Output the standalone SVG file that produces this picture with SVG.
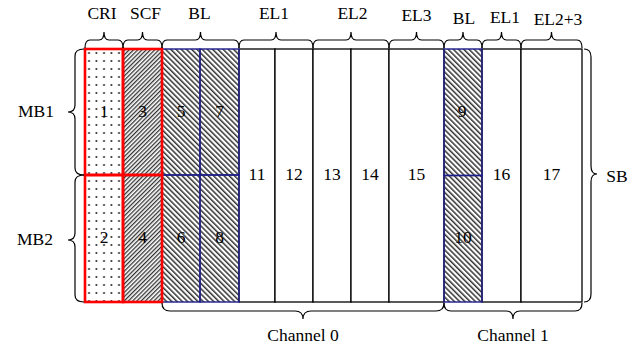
<svg xmlns="http://www.w3.org/2000/svg" width="639" height="350" viewBox="0 0 639 350">
  <style>
    .t { font-family: 'Liberation Serif', 'Times New Roman', Times, serif; font-size: 17.5px; fill: #000; text-anchor: middle; }
    .cell { fill: #fff; stroke: #000; stroke-width: 1.3; }
    .red { stroke: #ff0000; stroke-width: 2.6; }
    .blue { stroke: #1c1c8a; stroke-width: 1.4; }
    .brace { fill: none; stroke: #000; stroke-width: 1.2; }
  </style>
  <defs>
    <pattern id="dots" patternUnits="userSpaceOnUse" width="7.5" height="8" x="85" y="49">
      <circle cx="4" cy="4" r="1" fill="#222"/>
    </pattern>
    <pattern id="hatchFwd" patternUnits="userSpaceOnUse" width="3" height="10" patternTransform="rotate(45)">
      <rect x="0" y="0" width="1.3" height="10" fill="#333"/>
    </pattern>
    <pattern id="hatchBack" patternUnits="userSpaceOnUse" width="3.7" height="10" patternTransform="rotate(-45)">
      <rect x="0" y="0" width="1.5" height="10" fill="#333"/>
    </pattern>
  </defs>

  <!-- plain columns (EL blocks) -->
  <g id="cell-11"><rect class="cell" x="239" y="49" width="36" height="253"/><text class="t" x="257" y="180">11</text></g>
  <g id="cell-12"><rect class="cell" x="275" y="49" width="38" height="253"/><text class="t" x="294" y="180">12</text></g>
  <g id="cell-13"><rect class="cell" x="313" y="49" width="38" height="253"/><text class="t" x="332" y="180">13</text></g>
  <g id="cell-14"><rect class="cell" x="351" y="49" width="38" height="253"/><text class="t" x="370" y="180">14</text></g>
  <g id="cell-15"><rect class="cell" x="389" y="49" width="55" height="253"/><text class="t" x="416.5" y="180">15</text></g>
  <g id="cell-16"><rect class="cell" x="482" y="49" width="39" height="253"/><text class="t" x="501.5" y="180">16</text></g>
  <g id="cell-17"><rect class="cell" x="521" y="49" width="61" height="253"/><text class="t" x="551.5" y="180">17</text></g>

  <!-- BL blocks (hatched, blue outline) -->
  <g id="cell-5"><rect class="blue" fill="url(#hatchBack)" x="162" y="49" width="38" height="126"/><text class="t" x="181" y="117">5</text></g>
  <g id="cell-7"><rect class="blue" fill="url(#hatchBack)" x="200" y="49" width="39" height="126"/><text class="t" x="219.5" y="117">7</text></g>
  <g id="cell-6"><rect class="blue" fill="url(#hatchBack)" x="162" y="175" width="38" height="127"/><text class="t" x="181" y="243">6</text></g>
  <g id="cell-8"><rect class="blue" fill="url(#hatchBack)" x="200" y="175" width="39" height="127"/><text class="t" x="219.5" y="243">8</text></g>
  <g id="cell-9"><rect class="blue" fill="url(#hatchBack)" x="444" y="49" width="38" height="126.5"/><text class="t" x="462" y="117">9</text></g>
  <g id="cell-10"><rect class="blue" fill="url(#hatchBack)" x="444" y="175.5" width="38" height="126.5"/><text class="t" x="463" y="243">10</text></g>

  <!-- CRI and SCF blocks (red outline) -->
  <g id="cell-1"><rect class="red" fill="url(#dots)" x="85" y="49" width="38" height="126"/><text class="t" x="104" y="117">1</text></g>
  <g id="cell-2"><rect class="red" fill="url(#dots)" x="85" y="175" width="38" height="127"/><text class="t" x="104" y="243">2</text></g>
  <g id="cell-3"><rect class="red" fill="url(#hatchFwd)" x="123" y="49" width="39" height="126"/><text class="t" x="142.5" y="117">3</text></g>
  <g id="cell-4"><rect class="red" fill="url(#hatchFwd)" x="123" y="175" width="39" height="127"/><text class="t" x="142.5" y="243">4</text></g>

  <!-- braces -->
  <g id="connectors">
    <!-- top braces -->
    <path class="brace" d="M85,48 Q85,40 90,40 L99,40 Q104,40 104,32 Q104,40 109,40 L118,40 Q123,40 123,48"/>
    <path class="brace" d="M123,48 Q123,40 128,40 L137.5,40 Q142.5,40 142.5,32 Q142.5,40 147.5,40 L157,40 Q162,40 162,48"/>
    <path class="brace" d="M162,48 Q162,40 167,40 L195.5,40 Q200.5,40 200.5,32 Q200.5,40 205.5,40 L234,40 Q239,40 239,48"/>
    <path class="brace" d="M239,48 Q239,40 244,40 L271,40 Q276,40 276,32 Q276,40 281,40 L308,40 Q313,40 313,48"/>
    <path class="brace" d="M313,48 Q313,40 318,40 L346,40 Q351,40 351,32 Q351,40 356,40 L384,40 Q389,40 389,48"/>
    <path class="brace" d="M389,48 Q389,40 394,40 L411.5,40 Q416.5,40 416.5,32 Q416.5,40 421.5,40 L439,40 Q444,40 444,48"/>
    <path class="brace" d="M444,48 Q444,40 449,40 L458,40 Q463,40 463,32 Q463,40 468,40 L477,40 Q482,40 482,48"/>
    <path class="brace" d="M482,48 Q482,40 487,40 L496.5,40 Q501.5,40 501.5,32 Q501.5,40 506.5,40 L516,40 Q521,40 521,48"/>
    <path class="brace" d="M521,48 Q521,40 526,40 L546.5,40 Q551.5,40 551.5,32 Q551.5,40 556.5,40 L577,40 Q582,40 582,48"/>
    <!-- left braces -->
    <path class="brace" d="M84,49 Q75,49 75,56 L75,105 Q75,112 68,112 Q75,112 75,119 L75,168 Q75,175 84,175"/>
    <path class="brace" d="M84,175 Q75,175 75,182 L75,233 Q75,240 68,240 Q75,240 75,247 L75,295 Q75,302 84,302"/>
    <!-- right brace -->
    <path class="brace" d="M584,49 Q591,49 591,57 L591,166 Q591,174 597,174 Q591,174 591,182 L591,294 Q591,302 584,302"/>
    <!-- bottom braces -->
    <path class="brace" d="M162,303 Q162,311 170,311 L295,311 Q303,311 303,319 Q303,311 311,311 L436,311 Q444,311 444,303"/>
    <path class="brace" d="M444,303 Q444,311 451,311 L506,311 Q513,311 513,319 Q513,311 520,311 L575,311 Q582,311 582,303"/>
  </g>

  <!-- labels -->
  <g id="labels">
    <text class="t" x="102" y="19">CRI</text>
    <text class="t" x="145.5" y="19">SCF</text>
    <text class="t" x="199.5" y="19">BL</text>
    <text class="t" x="274" y="19">EL1</text>
    <text class="t" x="352.5" y="19">EL2</text>
    <text class="t" x="416.5" y="21">EL3</text>
    <text class="t" x="464" y="24">BL</text>
    <text class="t" x="505" y="23">EL1</text>
    <text class="t" x="558" y="25">EL2+3</text>
    <text class="t" x="36" y="117">MB1</text>
    <text class="t" x="35" y="245">MB2</text>
    <text class="t" x="617" y="182">SB</text>
    <text class="t" x="303" y="341">Channel 0</text>
    <text class="t" x="513" y="341">Channel 1</text>
  </g>
</svg>
